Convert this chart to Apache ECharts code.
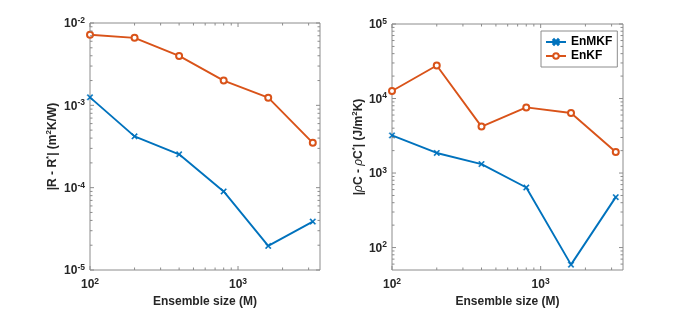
<!DOCTYPE html>
<html>
<head>
<meta charset="utf-8">
<script src="https://cdn.jsdelivr.net/npm/echarts@6/dist/echarts.min.js"></script>
<style>html,body{margin:0;padding:0;background:#fff}#c{width:688px;height:313px}</style>
</head>
<body>
<div id="c"></div>
<script>
// ---- data ----
const ensembleSize = [100, 200, 400, 800, 1600, 3200];
const errR_EnMKF = [1.25e-3, 4.2e-4, 2.54e-4, 9.0e-5, 1.96e-5, 3.87e-5];
const errR_EnKF  = [7.2e-3, 6.6e-3, 3.98e-3, 2.0e-3, 1.24e-3, 3.5e-4];
const errC_EnMKF = [3.2e3, 1.86e3, 1.32e3, 640, 59, 475];
const errC_EnKF  = [1.26e4, 2.77e4, 4.2e3, 7.6e3, 6.4e3, 1.92e3];
const seriesNames = ['EnMKF', 'EnKF'];
const xMajorTicks = [100, 1000];
const leftYMajorTicks = [1e-5, 1e-4, 1e-3, 1e-2];
const rightYMajorTicks = [100, 1000, 1e4, 1e5];

const X_MIN = 100, X_MAX = 3580;
const LY_MIN = 1e-5, LY_MAX = 1e-2;
const RY_MIN = 50, RY_MAX = 1e5;

const BLUE = '#0072BD', ORANGE = '#D95319';
const FONT = '"Liberation Sans", Arial, sans-serif';
const TXT = '#262626';

function minorsBetween(lo, hi) {
  const out = [];
  for (let e = -6; e <= 6; e++) {
    for (let m = 2; m <= 9; m++) {
      const v = m * Math.pow(10, e);
      if (v > lo * 1.0001 && v < hi * 0.9999) out.push(v);
    }
  }
  return out;
}
const xMinorTicks = minorsBetween(X_MIN, X_MAX);
const leftYMinorTicks = minorsBetween(LY_MIN, LY_MAX);
const rightYMinorTicks = minorsBetween(RY_MIN, RY_MAX);

const rich = {
  b: {fontFamily: FONT, fontWeight: 'bold', fontSize: 12, color: TXT, lineHeight: 14, verticalAlign: 'bottom'},
  s: {fontFamily: FONT, fontWeight: 'bold', fontSize: 8.5, color: TXT, lineHeight: 14, verticalAlign: 'top'}
};
function powLabel(v) {
  const e = Math.log10(v);
  const r = Math.round(e);
  if (Math.abs(e - r) > 1e-6) return '';
  return '{b|10}{s|' + r + '}';
}

const nameRich = {
  n: {fontFamily: FONT, fontWeight: 'bold', fontSize: 12, color: TXT, lineHeight: 14, verticalAlign: 'bottom'},
  g: {fontFamily: FONT, fontStyle: 'italic', fontSize: 12, color: TXT, lineHeight: 14, verticalAlign: 'bottom'},
  s: {fontFamily: FONT, fontWeight: 'bold', fontSize: 8, color: TXT, lineHeight: 14, verticalAlign: 'top'}
};

function tickData(xMaj, xMin, yMaj, yMin) {
  const d = [];
  xMaj.forEach(v => d.push([v, 0, 0, 1]));
  xMin.forEach(v => d.push([v, 0, 0, 0]));
  yMaj.forEach(v => d.push([0, v, 1, 1]));
  yMin.forEach(v => d.push([0, v, 1, 0]));
  return d;
}
function tickSeries(gi, xr, yr, data) {
  return {
    type: 'custom', xAxisIndex: gi, yAxisIndex: gi, silent: true, clip: false, z: 5,
    data: data,
    encode: {x: -1, y: -1},
    renderItem: function (params, api) {
      const kind = api.value(2), major = api.value(3);
      const len = major ? 4 : 2.5;
      const st = {stroke: '#8c8c8c', lineWidth: 1};
      let a, b;
      if (kind === 0) {
        const v = api.value(0);
        a = api.coord([v, yr[0]]); b = api.coord([v, yr[1]]);
        return {type: 'group', children: [
          {type: 'line', shape: {x1: a[0], y1: a[1], x2: a[0], y2: a[1] - len}, style: st},
          {type: 'line', shape: {x1: b[0], y1: b[1], x2: b[0], y2: b[1] + len}, style: st}
        ]};
      } else {
        const v = api.value(1);
        a = api.coord([xr[0], v]); b = api.coord([xr[1], v]);
        return {type: 'group', children: [
          {type: 'line', shape: {x1: a[0], y1: a[1], x2: a[0] + len, y2: a[1]}, style: st},
          {type: 'line', shape: {x1: b[0], y1: b[1], x2: b[0] - len, y2: b[1]}, style: st}
        ]};
      }
    }
  };
}

const crossPath = 'path://M1.5,0L5,3.5L8.5,0L10,1.5L6.5,5L10,8.5L8.5,10L5,6.5L1.5,10L0,8.5L3.5,5L0,1.5Z';

function lineSeries(name, gi, ys, color, isCross) {
  return {
    name: name, type: 'line', xAxisIndex: gi, yAxisIndex: gi,
    data: ensembleSize.map((x, i) => [x, ys[i]]),
    symbol: isCross ? crossPath : 'emptyCircle',
    symbolSize: 6,
    lineStyle: {color: color, width: 1.9},
    itemStyle: {color: color, borderColor: color, borderWidth: isCross ? 0.4 : 1.5},
    emphasis: {disabled: true}, silent: true, z: 3
  };
}

function xAxis(gi) {
  return {
    type: 'log', logBase: 10, gridIndex: gi, min: X_MIN, max: X_MAX,
    name: 'Ensemble size (M)', nameLocation: 'middle', nameGap: 26,
    nameTextStyle: {fontFamily: FONT, fontWeight: 'bold', fontSize: 12, color: TXT},
    axisLine: {show: false}, axisTick: {show: false}, splitLine: {show: false},
    axisLabel: {formatter: powLabel, rich: rich, margin: 7, showMaxLabel: false}
  };
}
function yAxis(gi, mn, mx, nameStr, gap) {
  return {
    type: 'log', logBase: 10, gridIndex: gi, min: mn, max: mx,
    name: nameStr, nameLocation: 'middle', nameGap: gap, nameRotate: 90,
    nameTextStyle: {rich: nameRich},
    axisLine: {show: false}, axisTick: {show: false}, splitLine: {show: false},
    axisLabel: {formatter: powLabel, rich: rich, margin: 5}
  };
}

const chart = echarts.init(document.getElementById('c'), null, {renderer: 'canvas'});
chart.setOption({
  animation: false,
  backgroundColor: '#fff',
  grid: [
    {left: 90, top: 23, width: 230, height: 249, show: true, borderColor: '#8c8c8c', borderWidth: 1, backgroundColor: 'transparent'},
    {left: 392, top: 24, width: 231, height: 249, show: true, borderColor: '#8c8c8c', borderWidth: 1, backgroundColor: 'transparent'}
  ],
  xAxis: [xAxis(0), xAxis(1)],
  yAxis: [
    yAxis(0, LY_MIN, LY_MAX, '{n||R - R}{s|*}{n|| (m}{s|2}{n|K/W)}', 31),
    yAxis(1, RY_MIN, RY_MAX, '{n||}{g|ρ}{n|C - }{g|ρ}{n|C}{s|*}{n|| (J/m}{s|2}{n|K)}', 23)
  ],
  legend: {
    data: seriesNames, orient: 'vertical', left: 541, top: 31,
    backgroundColor: '#fff', borderColor: '#8c8c8c', borderWidth: 1, borderRadius: 0,
    padding: [5, 5, 5, 4], itemGap: 2, itemWidth: 20, itemHeight: 7,
    textStyle: {fontFamily: FONT, fontWeight: 'bold', fontSize: 12, color: '#000'}
  },
  series: [
    lineSeries('EnMKF', 0, errR_EnMKF, BLUE, true),
    lineSeries('EnKF', 0, errR_EnKF, ORANGE, false),
    lineSeries('EnMKF', 1, errC_EnMKF, BLUE, true),
    lineSeries('EnKF', 1, errC_EnKF, ORANGE, false),
    tickSeries(0, [X_MIN, X_MAX], [LY_MIN, LY_MAX], tickData(xMajorTicks, xMinorTicks, leftYMajorTicks, leftYMinorTicks)),
    tickSeries(1, [X_MIN, X_MAX], [RY_MIN, RY_MAX], tickData(xMajorTicks, xMinorTicks, rightYMajorTicks, rightYMinorTicks))
  ]
});
</script>
</body>
</html>
